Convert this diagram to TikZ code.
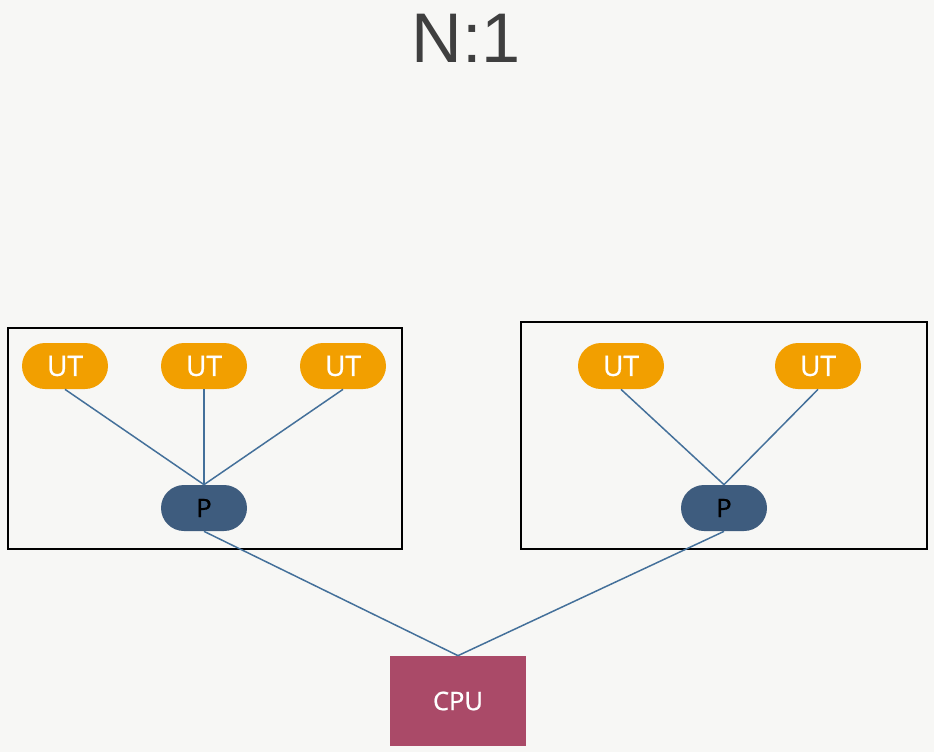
\documentclass[tikz,border=0pt]{standalone}
\usepackage{fontspec}
\setmainfont{Open Sans}
\newfontfamily\nodefont{Open Sans}[FakeBold=0.8]
\newfontfamily\titlefont{Liberation Sans}
\usetikzlibrary{shapes.misc}
\definecolor{bggray}{HTML}{F7F7F5}
\definecolor{utorange}{HTML}{F29F00}
\definecolor{pblue}{HTML}{3E5C7E}
\definecolor{cpured}{HTML}{AA4A68}
\definecolor{wireblue}{HTML}{44709A}
\definecolor{titlegray}{HTML}{3F3F3F}
\tikzset{
  ut/.style={rounded rectangle, fill=utorange, text=white, minimum width=86\pxu, minimum height=46\pxu, inner sep=0pt, font=\nodefont\fontsize{16}{16}\selectfont},
  proc/.style={rounded rectangle, fill=pblue, text=black, minimum width=86\pxu, minimum height=46\pxu, inner sep=0pt, font=\nodefont\fontsize{14.5}{15}\selectfont},
  cpu/.style={rectangle, fill=cpured, text=white, minimum width=136\pxu, minimum height=90\pxu, inner sep=0pt, font=\nodefont\fontsize{14.5}{15}\selectfont},
  frame/.style={draw=black, line width=0.8pt},
  wire/.style={draw=wireblue, line width=0.85pt}
}
\newcommand{\pxu}{*0.02cm}
\begin{document}
\begin{tikzpicture}[x=0.02cm,y=-0.02cm]
  \fill [bggray] (0,0) rectangle (934,752);
  \useasboundingbox (0,0) rectangle (934,752);
  % title
  \node [text=titlegray, font=\titlefont\fontsize{40}{40}\selectfont] (title) at (466,38) {N:1};
  % process frames
  \draw [frame] (8,328) rectangle (402,549);
  \draw [frame] (521,322) rectangle (927,549);
  % user threads and processes
  \foreach \n/\x in {a/65,b/204,c/343}
    \node [ut] (ut\n) at (\x,366) {UT};
  \foreach \n/\x in {d/621,e/818}
    \node [ut] (ut\n) at (\x,366) {UT};
  \node [proc] (pl) at (204,508) {P};
  \node [proc] (pr) at (724,508) {P};
  \node [cpu] (cpu) at (458,701) {CPU};
  % connectors
  \foreach \n in {a,b,c}
    \draw [wire] (ut\n.south) -- (pl.north);
  \foreach \n in {d,e}
    \draw [wire] (ut\n.south) -- (pr.north);
  \draw [wire] (pl.south) -- (cpu.north);
  \draw [wire] (pr.south) -- (cpu.north);
\end{tikzpicture}
\end{document}
